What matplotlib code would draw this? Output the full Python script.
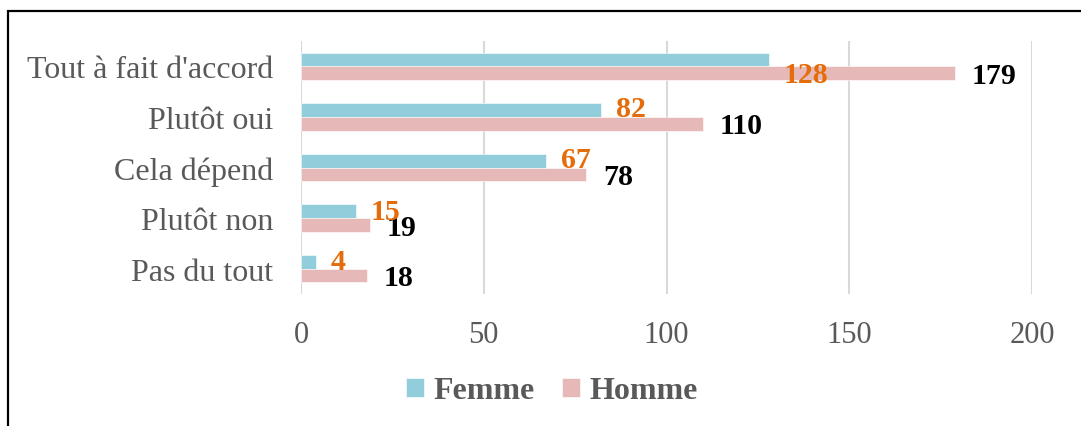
import matplotlib.pyplot as plt
import numpy as np
from matplotlib.patches import Rectangle

categories = ["Tout à fait d'accord", "Plutôt oui", "Cela dépend", "Plutôt non", "Pas du tout"]
femme = [128, 82, 67, 15, 4]
homme = [179, 110, 78, 19, 18]
xticks = [0, 50, 100, 150, 200]

plt.rcParams['font.family'] = ['Liberation Serif', 'DejaVu Serif']

fig = plt.figure(figsize=(10.81, 4.27), dpi=100)
ax = fig.add_axes([301 / 1081, 1 - 295 / 427, 731 / 1081, 253 / 427])

y = np.arange(len(categories))
h = 0.27
ax.barh(y - h / 2, femme, height=h, color='#92CDDC', edgecolor='white', linewidth=0.4,
        label='Femme', zorder=3)
ax.barh(y + h / 2, homme, height=h, color='#E6B9B8', edgecolor='white', linewidth=0.4,
        label='Homme', zorder=3)

# data labels
femme_dy = [-11, 1, 1, 0, 0]
for i, v in enumerate(femme):
    ax.annotate(str(v), (v, y[i] - h / 2), xytext=(11, femme_dy[i]), textcoords='offset points',
                ha='left', va='center', color='#E46C0A', fontsize=21.5, fontweight='bold', zorder=5)
for i, v in enumerate(homme):
    ax.annotate(str(v), (v, y[i] + h / 2), xytext=(12, -1.5), textcoords='offset points',
                ha='left', va='center', color='black', fontsize=21.5, fontweight='bold', zorder=4)

ax.set_xlim(0, 200)
ax.set_ylim(len(categories) - 0.5, -0.5)
ax.set_xticks(xticks)
ax.set_yticks(y)
ax.set_yticklabels(categories)
ax.tick_params(axis='x', length=0, pad=19, labelsize=22, labelcolor='#595959')
ax.tick_params(axis='y', length=0, pad=20, labelsize=23, labelcolor='#595959')
ax.grid(axis='x', color='#D9D9D9', linewidth=1.5, zorder=0)
for s in ax.spines.values():
    s.set_visible(False)

fig.legend(loc='center', bbox_to_anchor=(552 / 1081, 1 - 392 / 427), ncol=2, frameon=False,
           prop={'size': 23, 'weight': 'bold'}, labelcolor='#595959',
           handlelength=0.55, handleheight=0.55, handletextpad=0.3, columnspacing=0.85)

fig.patches.append(Rectangle((8 / 1081, -0.2), 1.2, 1.2 - 12 / 427, transform=fig.transFigure,
                             fill=False, edgecolor='black', linewidth=1.6, figure=fig))

fig.savefig('out.png', dpi=100)
